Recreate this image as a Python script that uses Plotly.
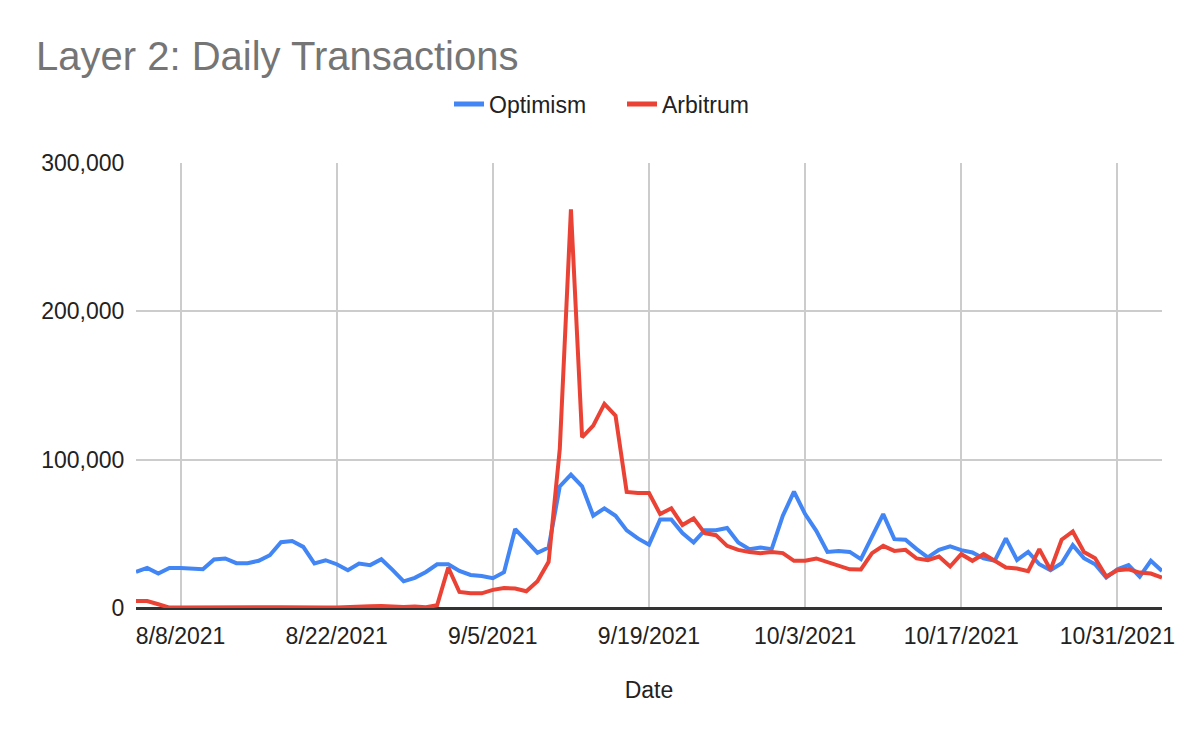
import pandas as pd
import plotly.graph_objects as go

start_date = "2021-08-04"
end_date = "2021-11-04"
dates = pd.date_range(start_date, end_date, freq="D")

optimism = [24300, 27000, 23200, 27000, 27000, 26400, 26200, 32700, 33400, 30200,
            30200, 31800, 35600, 44400, 45100, 41200, 30000, 32200, 29500, 25500,
            30000, 28900, 32900, 25700, 18000, 20300, 24300, 29500, 29500, 25000,
            22300, 21600, 20100, 24100, 53200, 45300, 37200, 40800, 82000, 89900,
            82000, 62200, 67200, 62200, 52300, 46900, 42700, 59700, 59700, 50500,
            44200, 52500, 52500, 53900, 44200, 39700, 40800, 39700, 62200, 78400,
            63300, 52000, 37800, 38500, 37800, 32900, 48200, 63300, 46400, 46000,
            39700, 34100, 39200, 41500, 39000, 37400, 33400, 31800, 46900, 32400,
            37800, 29500, 25500, 30200, 42400, 33600, 29500, 20500, 26100, 28900,
            21200, 31800, 25000]

arbitrum = [4700, 4700, 2500, 300, 300, 400, 300, 400, 500, 400,
            300, 400, 500, 500, 600, 500, 500, 400, 300, 400,
            800, 1200, 1400, 1000, 600, 1000, 500, 1800, 27300, 10800,
            9900, 9900, 12200, 13500, 13100, 11300, 18000, 31100, 107200, 268800,
            115100, 123000, 137600, 129700, 78200, 77500, 77500, 63300, 67200, 55900,
            60400, 50500, 49100, 41900, 39200, 37800, 37000, 37800, 37000, 31800,
            31800, 33400, 31100, 28900, 26100, 26000, 37000, 41900, 38500, 39200,
            33400, 32200, 34700, 28000, 36300, 31800, 36300, 31800, 27300, 26600,
            24800, 39700, 25700, 46000, 51600, 37800, 33600, 21200, 25500, 26100,
            23900, 23200, 20500]

series_names = ["Optimism", "Arbitrum"]
series_colors = ["#4285F4", "#EA4335"]
title_text = "Layer 2: Daily Transactions"
x_title = "Date"
y_ticks = [0, 100000, 200000, 300000]
y_ticklabels = ["0", "100,000", "200,000", "300,000"]

FONT = "Liberation Sans, Arial, sans-serif"

fig = go.Figure()
for name, vals, col in zip(series_names, [optimism, arbitrum], series_colors):
    fig.add_trace(go.Scatter(x=dates, y=vals, mode="lines", name=name,
                             line=dict(color=col, width=4), showlegend=False,
                             hoverinfo="x+y"))
    # legend swatch
    fig.add_trace(go.Scatter(x=[None], y=[None], mode="lines", name=name,
                             line=dict(color=col, width=5), showlegend=True))

fig.update_layout(
    width=1200, height=742,
    paper_bgcolor="white", plot_bgcolor="white",
    margin=dict(l=128, r=46, t=155, b=142),
    font=dict(family=FONT, size=23, color="#222222"),
    title=dict(text=title_text, xref="container", x=28/1200, xanchor="left",
               yref="container", y=1 - 48/742, yanchor="middle",
               font=dict(family=FONT, size=40, color="#757575"),
               automargin=False),
    legend=dict(orientation="h", xref="container", x=441/1200, xanchor="left",
                yref="container", y=1 - 96/742, yanchor="middle",
                font=dict(size=23, color="#222222"), itemwidth=30,
                entrywidth=128, entrywidthmode="pixels",
                tracegroupgap=0, itemsizing="trace"),
    xaxis=dict(type="date",
               range=[dates[0], dates[-1]],
               tick0="2021-08-08", dtick=14 * 86400000,
               tickformat="%-m/%-d/%Y",
               showgrid=True, gridcolor="#cccccc", gridwidth=2,
               showline=False, zeroline=False,
               ticks="outside", ticklen=7, tickcolor="rgba(0,0,0,0)",
               tickfont=dict(size=23, color="#222222"),
               automargin=False,
               title=dict(text=x_title, standoff=34, font=dict(size=23, color="#222222"))),
    yaxis=dict(range=[0, 300000], tickvals=y_ticks, ticktext=y_ticklabels,
               showgrid=True, gridcolor="#cccccc", gridwidth=2,
               zeroline=True, zerolinecolor="#333333", zerolinewidth=3,
               showline=False, ticks="outside", ticklen=6, tickcolor="rgba(0,0,0,0)",
               tickfont=dict(size=23, color="#222222"),
               automargin=False),
    hovermode="closest",
)

fig.write_html("out.html")
